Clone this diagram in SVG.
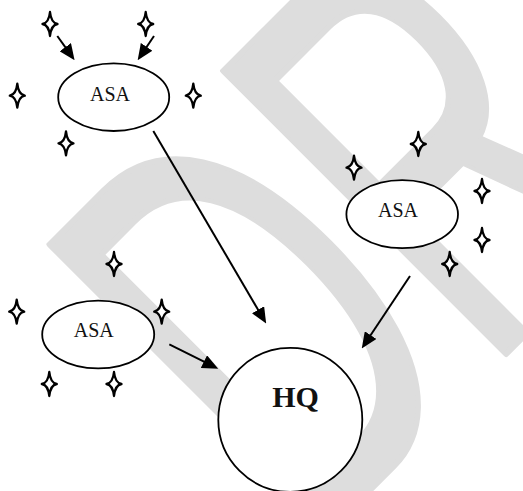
<svg xmlns="http://www.w3.org/2000/svg" width="523" height="491" viewBox="0 0 523 491">
<style>
.wm{font-family:"Liberation Sans",Arial,sans-serif;font-size:340px;fill:#dddddd;stroke:#dddddd;stroke-width:5;stroke-linejoin:round}
.node{fill:#ffffff;stroke:#000000;stroke-width:1.8}
.lbl{font-family:"Liberation Serif","Times New Roman",serif;font-size:20px;fill:#111111;text-anchor:middle}
.hq{font-family:"Liberation Serif","Times New Roman",serif;font-size:30px;font-weight:bold;fill:#111111;text-anchor:middle}
.edge{stroke:#000000;stroke-width:2;fill:none;marker-end:url(#ah)}
.star{fill:#ffffff;stroke:#000000;stroke-width:2.3;stroke-linejoin:round}
</style>
<defs>
<marker id="ah" markerUnits="userSpaceOnUse" markerWidth="16" markerHeight="14" refX="4" refY="7" orient="auto">
<path d="M0,0 L16,7 L0,14 Z" fill="#000000"/>
</marker>
<path id="st" d="M0,-12 Q1.1,-1.1 7.5,0 Q1.1,1.1 0,12 Q-1.1,1.1 -7.5,0 Q-1.1,-1.1 0,-12 Z"/>
</defs>
<rect width="523" height="491" fill="#ffffff"/>
<g id="watermark">
<text class="wm" transform="translate(312,548) rotate(-45) scale(1,1.71)" x="0" y="0" vector-effect="non-scaling-stroke">DRAFT</text>
</g>
<g id="connectors">
<line class="edge" x1="57.3" y1="36" x2="67.6" y2="50.4"/>
<line class="edge" x1="154" y1="36" x2="144.4" y2="50.2"/>
<line class="edge" x1="153.3" y1="131" x2="260.1" y2="313.2"/>
<line class="edge" x1="410" y1="276" x2="368.4" y2="338.5"/>
<line class="edge" x1="169.3" y1="344.3" x2="207.5" y2="363.4"/>
</g>
<g id="stars">
<use href="#st" class="star" x="50" y="24"/>
<use href="#st" class="star" x="145.7" y="24"/>
<use href="#st" class="star" x="17.3" y="95.7"/>
<use href="#st" class="star" x="193.3" y="95.7"/>
<use href="#st" class="star" x="66" y="143.3"/>
<use href="#st" class="star" x="418.3" y="144"/>
<use href="#st" class="star" x="354" y="167.7"/>
<use href="#st" class="star" x="482" y="191"/>
<use href="#st" class="star" x="482" y="240"/>
<use href="#st" class="star" x="449.7" y="264"/>
<use href="#st" class="star" x="114" y="264"/>
<use href="#st" class="star" x="16.7" y="311.7"/>
<use href="#st" class="star" x="161.7" y="311.7"/>
<use href="#st" class="star" x="49.3" y="384"/>
<use href="#st" class="star" x="114" y="384"/>
</g>
<g id="asa-top">
<ellipse class="node" cx="113.7" cy="97.2" rx="55.5" ry="33.8"/>
<text class="lbl" x="110" y="101">ASA</text>
</g>
<g id="asa-right">
<ellipse class="node" cx="402.2" cy="214.2" rx="55.8" ry="34"/>
<text class="lbl" x="398" y="216.7">ASA</text>
</g>
<g id="asa-left">
<ellipse class="node" cx="98.2" cy="334.5" rx="56" ry="33.8"/>
<text class="lbl" x="93.8" y="337.3">ASA</text>
</g>
<g id="hq">
<circle class="node" cx="290.3" cy="419.8" r="72"/>
<text class="hq" x="295.5" y="406.7">HQ</text>
</g>
</svg>
